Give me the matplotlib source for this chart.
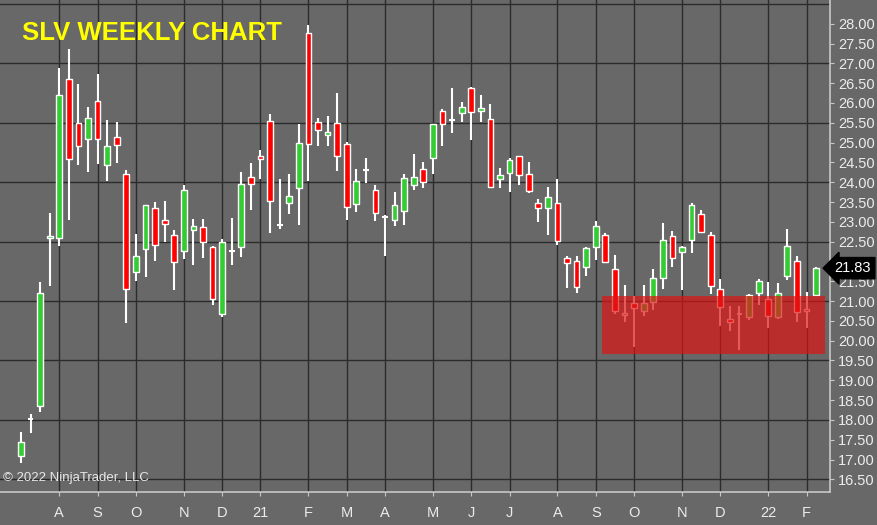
import numpy as np
import pandas as pd
import matplotlib
matplotlib.use('Agg')
import matplotlib.pyplot as plt
from matplotlib.patches import Rectangle
import matplotlib.transforms as mtransforms

# weekly SLV bars, Jul 2020 - Feb 2022
first_week = '2020-07-10'
opens = [17.09, 18.00, 18.34, 22.58, 22.58, 26.61, 25.50, 25.09, 26.05, 24.44,
         25.15, 24.21, 21.73, 22.32, 23.34, 23.05, 22.67, 22.27, 22.80, 22.87,
         22.36, 20.68, 22.26, 22.36, 24.12, 24.67, 25.54, 22.92, 23.48, 23.85,
         27.77, 25.52, 25.18, 25.50, 24.97, 23.44, 24.29, 23.80, 23.10, 23.05,
         23.28, 23.94, 24.33, 24.61, 25.81, 25.55, 25.75, 26.38, 25.81, 25.60,
         24.08, 24.24, 24.66, 24.22, 23.48, 23.35, 23.48, 22.09, 22.00, 21.86,
         22.36, 22.66, 21.81, 20.64, 20.96, 20.76, 20.97, 21.58, 22.65, 22.24,
         22.55, 23.20, 22.67, 21.30, 20.54, 20.66, 20.61, 21.20, 21.05, 20.59,
         21.64, 22.00, 20.80, 21.16]
highs = [17.70, 18.14, 21.47, 23.22, 26.89, 27.37, 26.49, 25.89, 26.74, 25.56,
         25.52, 24.32, 22.69, 23.43, 23.49, 23.52, 22.80, 23.94, 23.08, 23.08,
         22.38, 22.57, 23.10, 24.26, 24.49, 24.82, 25.73, 24.07, 24.21, 25.48,
         27.98, 25.62, 25.68, 26.26, 25.01, 24.33, 24.61, 23.94, 23.16, 23.75,
         24.22, 24.72, 24.51, 25.48, 25.86, 26.39, 26.02, 26.41, 26.21, 25.97,
         24.36, 24.61, 24.66, 24.51, 23.58, 23.88, 24.07, 22.14, 22.14, 22.36,
         23.03, 22.72, 22.17, 21.41, 21.13, 21.41, 21.81, 22.97, 22.78, 22.38,
         23.48, 23.31, 22.74, 21.55, 20.88, 20.88, 21.18, 21.55, 21.47, 21.45,
         22.82, 22.14, 21.22, 21.87]
lows = [16.90, 17.66, 18.21, 21.39, 22.38, 23.05, 24.43, 24.25, 24.47, 24.04,
        24.49, 20.44, 21.50, 21.62, 22.00, 22.49, 21.27, 22.07, 21.90, 22.09,
        20.91, 20.59, 21.92, 22.10, 23.31, 24.08, 22.73, 22.82, 23.21, 22.93,
        24.04, 24.91, 24.92, 24.28, 23.04, 23.26, 23.98, 23.01, 22.13, 22.89,
        22.93, 23.80, 23.85, 24.21, 24.91, 25.23, 25.51, 25.06, 25.51, 23.88,
        23.85, 23.75, 23.92, 23.73, 22.99, 22.68, 22.41, 21.33, 21.20, 21.64,
        22.03, 21.98, 20.67, 20.46, 19.83, 20.63, 20.78, 21.30, 21.87, 21.29,
        22.21, 22.72, 21.18, 20.36, 20.25, 19.77, 20.53, 20.91, 20.33, 20.54,
        21.54, 20.46, 20.33, 21.12]
closes = [17.43, 18.03, 21.20, 22.64, 26.20, 24.59, 24.92, 25.62, 25.08, 24.92,
          24.95, 21.30, 22.13, 23.42, 22.41, 22.94, 21.98, 23.80, 22.89, 22.49,
          21.06, 22.49, 22.28, 23.96, 23.96, 24.59, 23.53, 22.94, 23.64, 24.99,
          24.97, 25.33, 25.27, 24.67, 23.37, 24.02, 24.31, 23.22, 23.14, 23.42,
          24.11, 24.12, 24.01, 25.47, 25.47, 25.57, 25.90, 25.78, 25.88, 23.88,
          24.17, 24.56, 24.19, 23.78, 23.35, 23.63, 22.52, 21.96, 21.35, 22.34,
          22.89, 21.98, 20.74, 20.71, 20.82, 20.95, 21.58, 22.53, 22.09, 22.36,
          23.43, 22.74, 21.39, 20.85, 20.48, 20.68, 21.16, 21.50, 20.63, 21.20,
          22.38, 20.72, 20.75, 21.83]

# support zone drawn on the chart
zone_low, zone_high = 19.66, 21.12
zone_start, zone_end = 60.6, 83.9   # in bar units

month_letters = 'JFMAMJJASOND'

bg = '#686868'
green = '#33cc33'
red = '#ff0000'

dates = pd.date_range(first_week, periods=len(opens), freq='W-FRI')
x = np.arange(len(opens))

fig = plt.figure(figsize=(8.78, 5.25), dpi=100, facecolor=bg)
ax = fig.add_axes([0, 33 / 525, 830 / 878, 492 / 525], facecolor=bg)

# grid
for g in np.arange(16.5, 29.0, 1.5):
    ax.axhline(g, color='#2b2b2b', lw=1.0, zorder=0)

ticks, labels = [], []
for i in range(1, len(dates)):
    if dates[i].month != dates[i - 1].month:
        ticks.append(i)
        if dates[i].month == 1:
            labels.append(dates[i].strftime('%y'))
        else:
            labels.append(month_letters[dates[i].month - 1])
for t in ticks:
    ax.axvline(t, color='#2b2b2b', lw=1.0, zorder=0)

# candles
w = 0.6
for i in x:
    o, h, l, c = opens[i], highs[i], lows[i], closes[i]
    ax.vlines(i, l, h, color='white', lw=1.5, zorder=2)
    if abs(c - o) < 0.04:
        ax.hlines((o + c) / 2, i - w / 2, i + w / 2, color='white', lw=1.5, zorder=3)
    else:
        col = green if c > o else red
        ax.add_patch(Rectangle((i - w / 2, min(o, c)), w, abs(c - o),
                               facecolor=col, edgecolor='white', lw=1.0, zorder=3))

ax.add_patch(Rectangle((zone_start, zone_low), zone_end - zone_start, zone_high - zone_low,
                       facecolor='#dc1414', edgecolor='none', alpha=0.7, zorder=4))

ax.set_xlim(-2.19, 84.45)
ax.set_ylim(16.18, 28.6)

ax.yaxis.tick_right()
yt = np.arange(16.5, 28.01, 0.5)
ax.set_yticks(yt)
ax.set_yticklabels(['%.2f' % v for v in yt])
ax.set_xticks(ticks)
ax.set_xticklabels(labels)
ax.tick_params(axis='y', colors='#c8c8c8', labelcolor='#ececec', length=3, pad=3,
               labelsize=10.5)
ax.tick_params(axis='x', colors='#c8c8c8', labelcolor='#ececec', length=3, pad=7,
               labelsize=10.5)
for lab in ax.get_xticklabels() + ax.get_yticklabels():
    lab.set_fontfamily('Liberation Sans')

for s in ['top', 'left']:
    ax.spines[s].set_visible(False)
for s in ['right', 'bottom']:
    ax.spines[s].set_color('#c8c8c8')
    ax.spines[s].set_linewidth(1.2)

# title and footer
fig.text(22 / 878, 1 - 33 / 525, 'SLV WEEKLY CHART', color='#ffff00', fontsize=18.5,
         fontweight='bold', family='Liberation Sans', va='center', ha='left')
fig.text(3 / 878, 1 - 478 / 525, '\u00a9 2022 NinjaTrader, LLC', color='#e8e8e8',
         fontsize=9.5, family='Liberation Sans', va='center', ha='left')

# last price marker, drawn over the hidden 22.00 label as in the platform
trans = mtransforms.blended_transform_factory(fig.transFigure, ax.transData)
ax.text(853 / 878, closes[-1], '%.2f' % closes[-1], transform=trans, color='white',
        fontsize=10.5, family='Liberation Sans', ha='center', va='center', zorder=10,
        bbox=dict(boxstyle='larrow,pad=0.25', fc='black', ec='black'), clip_on=False)

fig.savefig('out.png', dpi=100, facecolor=bg)
